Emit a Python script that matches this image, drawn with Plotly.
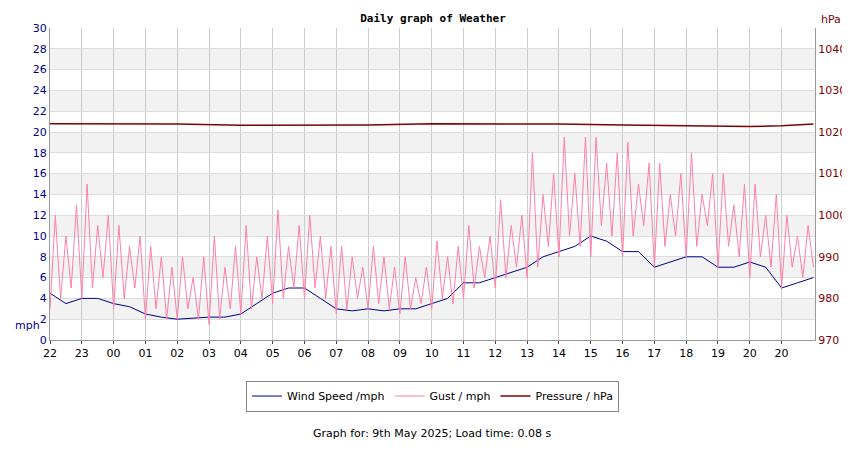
import plotly.graph_objects as go

tick_labels = ["22","23","00","01","02","03","04","05","06","07","08","09","10","11","12","13","14","15","16","17","18","19","20","20"]

# wind speed every 30 min (hours since start)
wind_t = [i*0.5 for i in range(49)]
wind = [4.5,3.5,4.0,4.0,3.5,3.2,2.5,2.2,2.0,2.1,2.2,2.2,2.5,3.5,4.5,5.0,5.0,4.0,3.0,2.8,
        3.0,2.8,3.0,3.0,3.5,4.0,5.5,5.5,6.0,6.5,7.0,8.0,8.5,9.0,10.0,9.5,8.5,8.5,7.0,7.5,
        8.0,8.0,7.0,7.0,7.5,7.0,5.0,5.5,6.0]

# gust every 10 min
gust_t = [i/6 for i in range(145)]
gust = [
 3,12,4,10,5,13, 4,15,5,11,6,12, 3,11,4,9,5,10, 2,9,3,8,2,7, 2,8,3,6,2,8,
 1.5,10,2,7,3,9, 2.5,11,3,8,4,10, 3.5,12.5,4,9,5,11, 4,12,5,10,4,9, 2.5,9,3,8,4,7,
 3,9,3.5,8,3,7, 2.5,8,3,6,3.5,7, 3,9.5,4,8,3.5,9, 4,11,5,9,6,10, 5,13.5,6,11,7,12,
 6,18,7,14,9,16, 8,19.5,10,16,9,19.5, 8,19.5,11,17,10,18, 8,19,10,15,11,17, 7,17,9,14,10,16,
 8,18,9,14,11,16, 7,16,9,13,8,15, 6,15,8,12,7,14, 5,12,7,10,6,11, 7]

press_t = [0,2,4,6,8,10,12,14,16,18,20,21,22,23,24]
press = [1022.0,1021.9,1021.9,1021.6,1021.6,1021.7,1022.0,1022.0,1021.9,1021.7,1021.5,1021.3,1021.3,1021.5,1021.9]

fig = go.Figure()
fig.add_trace(go.Scatter(x=wind_t, y=wind, name="Wind Speed /mph", mode="lines", line=dict(color="#00008b", width=1)))
fig.add_trace(go.Scatter(x=gust_t, y=gust, name="Gust / mph", mode="lines", line=dict(color="#ff7fa8", width=1)))
fig.add_trace(go.Scatter(x=press_t, y=press, name="Pressure / hPa", mode="lines", yaxis="y2", line=dict(color="#800000", width=1.5)))

for k in range(1, 30, 4):
    fig.add_hrect(y0=k+1, y1=k+3, fillcolor="#f2f2f2", line_width=0, layer="below")

fig.update_layout(
    width=850, height=450, margin=dict(l=42, r=39, t=20, b=118),
    paper_bgcolor="white", plot_bgcolor="white",
    font=dict(family="DejaVu Sans", size=11, color="black"),
    title=dict(text="<b>Daily graph of Weather</b>", x=0.5, y=0.985, font=dict(size=11, family="DejaVu Sans Mono")),
    xaxis=dict(range=[0,24.05], tickvals=list(range(24)), ticktext=tick_labels, showgrid=True, gridcolor="#cccccc", zeroline=False, showline=True, linecolor="#999", ticks="outside", ticklen=3),
    yaxis=dict(range=[0,30], dtick=2, tickfont=dict(color="#00008b"), showgrid=True, gridcolor="#dddddd", zeroline=False, showline=True, linecolor="#999"),
    yaxis2=dict(range=[970,1045], tickvals=[970,980,990,1000,1010,1020,1030,1040], overlaying="y", side="right", tickfont=dict(color="#800000"), showgrid=False, zeroline=False, showline=True, linecolor="#999"),
    legend=dict(orientation="h", x=0.5, xanchor="center", y=-0.13, yanchor="top", bordercolor="#888", borderwidth=1, font=dict(size=11)),
    showlegend=True,
)
fig.add_annotation(text="mph", xref="paper", yref="paper", x=-0.01, y=0.02, xanchor="right", showarrow=False, font=dict(color="#00008b", size=11))
fig.add_annotation(text="hPa", xref="paper", yref="paper", x=1.005, y=1.0, xanchor="left", yanchor="bottom", showarrow=False, font=dict(color="#800000", size=11))
fig.add_annotation(text="Graph for: 9th May 2025; Load time: 0.08 s", xref="paper", yref="paper", x=0.5, y=-0.3, yanchor="middle", showarrow=False, font=dict(size=11))
fig.write_html("out.html")
